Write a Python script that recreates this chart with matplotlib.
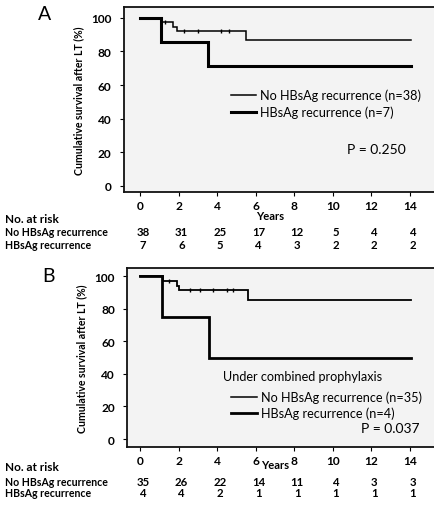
import matplotlib
matplotlib.use("Agg")
import matplotlib.pyplot as plt
from matplotlib.lines import Line2D
import matplotlib.transforms as mtransforms

plt.rcParams['font.family'] = ['Lato', 'DejaVu Sans']

# ---------------- data ----------------
years_ticks = [0, 2, 4, 6, 8, 10, 12, 14]
y_ticks = [0, 20, 40, 60, 80, 100]

# Panel A
a_norec_t = [0, 1.07, 1.7, 1.9, 5.5, 14.05]
a_norec_s = [100, 97.4, 94.7, 92.1, 86.7, 86.7]
a_rec_t = [0, 1.07, 3.5, 14.05]
a_rec_s = [100, 85.7, 71.4, 71.4]
a_norec_cens = [1.3, 2.3, 3.0, 4.2, 4.6]
a_label_norec = "No HBsAg recurrence (n=38)"
a_label_rec = "HBsAg recurrence (n=7)"
a_p = "P = 0.250"
a_risk_norec = [38, 31, 25, 17, 12, 5, 4, 4]
a_risk_rec = [7, 6, 5, 4, 3, 2, 2, 2]

# Panel B
b_norec_t = [0, 1.2, 1.9, 2.0, 5.6, 14.05]
b_norec_s = [100, 97.1, 94.3, 91.4, 85.7, 85.7]
b_rec_t = [0, 1.12, 3.6, 14.05]
b_rec_s = [100, 75, 50, 50]
b_norec_cens = [1.5, 2.6, 3.1, 3.8, 4.5, 4.8]
b_title = "Under combined prophylaxis"
b_label_norec = "No HBsAg recurrence (n=35)"
b_label_rec = "HBsAg recurrence (n=4)"
b_p = "P = 0.037"
b_risk_norec = [35, 26, 22, 14, 11, 4, 3, 3]
b_risk_rec = [4, 4, 2, 1, 1, 1, 1, 1]

risk_row_labels = ["No HBsAg recurrence", "HBsAg recurrence"]

W, H = 434, 506
fig = plt.figure(figsize=(W / 100, H / 100), dpi=100)


def ax_rect(l, t, r, b):
    return [l / W, 1 - b / H, (r - l) / W, (b - t) / H]


def step_curve(ax, t, s, lw):
    ax.step(t, s, where='post', color='black', lw=lw, solid_joinstyle='miter')


def cens_marks(ax, t_all, s_all, cens):
    ys = []
    for c in cens:
        v = s_all[0]
        for ti, si in zip(t_all, s_all):
            if ti <= c:
                v = si
        ys.append(v)
    ax.plot(cens, ys, ls='none', marker='|', ms=3, mew=1, color='black')


def style_axes(ax, ylim, xlim):
    ax.set_facecolor('#f3f3f3')
    ax.set_xlim(*xlim)
    ax.set_ylim(*ylim)
    ax.set_xticks(years_ticks)
    ax.set_yticks(y_ticks)
    for sp in ax.spines.values():
        sp.set_linewidth(1.3)
        sp.set_color('#111111')
    ax.tick_params(axis='both', direction='out', length=3, width=0.8,
                   labelsize=8.6)
    ax.tick_params(axis='x', pad=3)
    ax.tick_params(axis='y', pad=6)
    for lab in ax.get_xticklabels() + ax.get_yticklabels():
        lab.set_fontweight('bold')
    ax.set_ylabel("Cumulative survival after LT (%)", fontsize=7.6,
                  fontweight='bold', labelpad=5)


def risk_table(ax, row1, row2, y_head, y1, y2):
    trans = mtransforms.blended_transform_factory(ax.transData, fig.transFigure)
    for x, v1, v2 in zip(years_ticks, row1, row2):
        fig.text(x + 0.15, 1 - y1 / H, str(v1), transform=trans, ha='center',
                 va='center', fontsize=8.2, fontweight='bold')
        fig.text(x + 0.15, 1 - y2 / H, str(v2), transform=trans, ha='center',
                 va='center', fontsize=8.2, fontweight='bold')
    fig.text(5 / W, 1 - y_head / H, "No. at risk", ha='left', va='center',
             fontsize=8.5, fontweight='bold')
    fig.text(5 / W, 1 - y1 / H, risk_row_labels[0], ha='left', va='center',
             fontsize=7.6, fontweight='bold')
    fig.text(5 / W, 1 - y2 / H, risk_row_labels[1], ha='left', va='center',
             fontsize=7.6, fontweight='bold')


# ---------------- Panel A ----------------
axA = fig.add_axes(ax_rect(124, 8, 437, 193))
step_curve(axA, a_norec_t, a_norec_s, 1.1)
step_curve(axA, a_rec_t, a_rec_s, 2.2)
cens_marks(axA, a_norec_t, a_norec_s, a_norec_cens)
style_axes(axA, (-3.6, 106.4), (-0.83, 15.4))
axA.set_xlabel("Years", fontsize=8, fontweight='bold')
axA.xaxis.set_label_coords(0.466, -0.128)
axA.xaxis.label.set_va('center')
handlesA = [Line2D([], [], color='black', lw=1.1),
            Line2D([], [], color='black', lw=2.2)]
axA.legend(handlesA, [a_label_norec, a_label_rec], loc='center left',
           bbox_to_anchor=(0.325, 0.48), frameon=False, fontsize=9.1,
           handlelength=2.0, handletextpad=0.35, labelspacing=0.35,
           borderaxespad=0)
axA.text(0.713, 0.232, a_p, transform=axA.transAxes, ha='left', va='center',
         fontsize=10)
fig.text(45 / W, 1 - 15 / H, "A", ha='center', va='center', fontsize=14)
risk_table(axA, a_risk_norec, a_risk_rec, 220, 233, 245.5)

# ---------------- Panel B ----------------
axB = fig.add_axes(ax_rect(127.3, 269, 437, 448))
step_curve(axB, b_norec_t, b_norec_s, 1.3)
step_curve(axB, b_rec_t, b_rec_s, 2.0)
cens_marks(axB, b_norec_t, b_norec_s, b_norec_cens)
style_axes(axB, (-4.9, 105.1), (-0.66, 15.4))
axB.set_xlabel("Years", fontsize=8, fontweight='bold')
axB.xaxis.set_label_coords(0.477, -0.095)
axB.xaxis.label.set_va('center')
axB.text(0.31, 0.397, b_title, transform=axB.transAxes, ha='left',
         va='center', fontsize=9.1)
handlesB = [Line2D([], [], color='black', lw=1.1),
            Line2D([], [], color='black', lw=2.0)]
axB.legend(handlesB, [b_label_norec, b_label_rec], loc='center left',
           bbox_to_anchor=(0.32, 0.235), frameon=False, fontsize=9.1,
           handlelength=2.0, handletextpad=0.35, labelspacing=0.3,
           borderaxespad=0)
axB.text(0.942, 0.106, b_p, transform=axB.transAxes, ha='right', va='center',
         fontsize=10)
fig.text(48 / W, 1 - 277 / H, "B", ha='center', va='center', fontsize=14)
risk_table(axB, b_risk_norec, b_risk_rec, 468, 482.5, 493.5)

fig.savefig("out.png", dpi=100)
